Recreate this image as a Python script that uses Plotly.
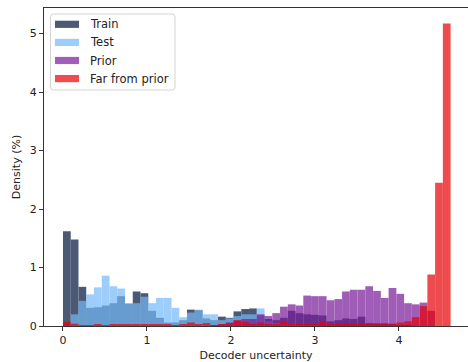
import plotly.graph_objects as go

# Histogram bins shared by all four distributions
BIN_LO = 0.0
BIN_HI = 4.615
N_BINS = 50

# Density (%) per bin
train = [1.62, 1.48, 0.67, 0.31, 0.32, 0.35, 0.39, 0.51, 0.38, 0.59,
         0.56, 0.26, 0.14, 0.06, 0.06, 0.10, 0.28, 0.27, 0.13, 0.10,
         0.16, 0.14, 0.25, 0.29, 0.30, 0.18, 0.12, 0.10, 0.14, 0.26,
         0.22, 0.20, 0.19, 0.18, 0.08, 0.10, 0.13, 0.12, 0.16, 0.05,
         0.03, 0.02, 0.02, 0.01, 0.01, 0.0, 0.0, 0.0, 0.0, 0.0]
test = [0.0, 0.20, 0.43, 0.54, 0.66, 0.86, 0.68, 0.64, 0.39, 0.39,
        0.50, 0.39, 0.48, 0.48, 0.31, 0.15, 0.23, 0.28, 0.20, 0.20,
        0.10, 0.13, 0.17, 0.20, 0.20, 0.30, 0.08, 0.05, 0.03, 0.02,
        0.01, 0.01, 0.01, 0.0, 0.0, 0.0, 0.0, 0.0, 0.0, 0.0,
        0.0, 0.0, 0.0, 0.0, 0.0, 0.0, 0.0, 0.0, 0.0, 0.0]
prior = [0.0, 0.0, 0.0, 0.0, 0.0, 0.0, 0.0, 0.0, 0.0, 0.0,
         0.0, 0.0, 0.0, 0.0, 0.0, 0.0, 0.0, 0.0, 0.0, 0.01,
         0.03, 0.06, 0.09, 0.12, 0.12, 0.20, 0.17, 0.22, 0.33, 0.37,
         0.35, 0.52, 0.51, 0.51, 0.44, 0.46, 0.59, 0.62, 0.62, 0.68,
         0.60, 0.48, 0.65, 0.55, 0.39, 0.37, 0.40, 0.26, 0.0, 0.0]
far_from_prior = [0.07, 0.04, 0.01, 0.01, 0.02, 0.01, 0.02, 0.03, 0.03, 0.02,
                  0.02, 0.02, 0.02, 0.02, 0.01, 0.02, 0.06, 0.02, 0.05, 0.01,
                  0.03, 0.05, 0.10, 0.07, 0.04, 0.06, 0.02, 0.02, 0.07, 0.02,
                  0.03, 0.02, 0.02, 0.07, 0.02, 0.04, 0.05, 0.04, 0.04, 0.03,
                  0.05, 0.05, 0.04, 0.06, 0.08, 0.15, 0.34, 0.88, 2.45, 5.17]

series = [
    ("Train", train, "rgb(0,20,60)"),
    ("Test", test, "rgb(116,185,248)"),
    ("Prior", prior, "rgb(121,26,154)"),
    ("Far from prior", far_from_prior, "rgb(231,0,5)"),
]
ALPHA = 0.7

W, H = 468, 362
M_L, M_R, M_T, M_B = 44, 0, 8, 36
PW, PH = W - M_L - M_R, H - M_T - M_B


def px_x(p):
    """Pixel column -> paper x."""
    return (p - M_L) / PW


def px_y(p):
    """Pixel row -> paper y."""
    return (H - M_B - p) / PH


width = (BIN_HI - BIN_LO) / N_BINS
centers = [BIN_LO + (i + 0.5) * width for i in range(N_BINS)]

fig = go.Figure()
for name, vals, color in series:
    fig.add_trace(go.Bar(
        x=centers, y=vals, width=width, name=name,
        marker=dict(color=color, line=dict(width=0)),
        opacity=ALPHA, showlegend=False,
    ))

# Legend box with rounded corners, wide swatches and labels
shapes = []
annotations = []
x0, x1, y0, y1 = px_x(50.5), px_x(175), px_y(14), px_y(90)
rx, ry = 3 / PW, 3 / PH
path = (f"M {x0 + rx} {y0} L {x1 - rx} {y0} Q {x1} {y0} {x1} {y0 - ry} "
        f"L {x1} {y1 + ry} Q {x1} {y1} {x1 - rx} {y1} "
        f"L {x0 + rx} {y1} Q {x0} {y1} {x0} {y1 + ry} "
        f"L {x0} {y0 - ry} Q {x0} {y0} {x0 + rx} {y0} Z")
shapes.append(dict(type="path", path=path, xref="paper", yref="paper",
                   fillcolor="rgba(255,255,255,0.8)",
                   line=dict(color="#d4d4d4", width=1), layer="above"))
row_centers = [24.3, 42.4, 60.5, 78.6]
for (name, _, color), cy in zip(series, row_centers):
    shapes.append(dict(type="rect", xref="paper", yref="paper",
                       x0=px_x(55), x1=px_x(79), y0=px_y(cy + 3.6), y1=px_y(cy - 3.6),
                       fillcolor=color, opacity=ALPHA, line=dict(width=0), layer="above"))
    annotations.append(dict(text=name, xref="paper", yref="paper",
                            x=px_x(88), y=px_y(cy), xanchor="left", yanchor="middle",
                            showarrow=False,
                            font=dict(family="DejaVu Sans", size=11.5, color="#222")))

font = dict(family="DejaVu Sans", size=11, color="#222")
fig.update_layout(
    width=W, height=H,
    margin=dict(l=M_L, r=M_R, t=M_T, b=M_B),
    barmode="overlay",
    plot_bgcolor="white", paper_bgcolor="white",
    font=font,
    shapes=shapes, annotations=annotations,
)
fig.update_xaxes(
    range=[-0.226, 4.822], tickvals=[0, 1, 2, 3, 4],
    showgrid=False, zeroline=False,
    showline=True, linecolor="#333", linewidth=1, mirror=True,
    ticks="outside", ticklen=4, tickcolor="#333",
    title=dict(text="Decoder uncertainty", standoff=5, font=font),
    automargin=False,
)
fig.update_yaxes(
    range=[0, 5.436], tickvals=[0, 1, 2, 3, 4, 5],
    showgrid=False, zeroline=False,
    showline=True, linecolor="#333", linewidth=1, mirror=False,
    ticks="outside", ticklen=4, tickcolor="#333",
    title=dict(text="Density (%)", standoff=6, font=font),
    automargin=False,
)

fig.write_html("out.html")
